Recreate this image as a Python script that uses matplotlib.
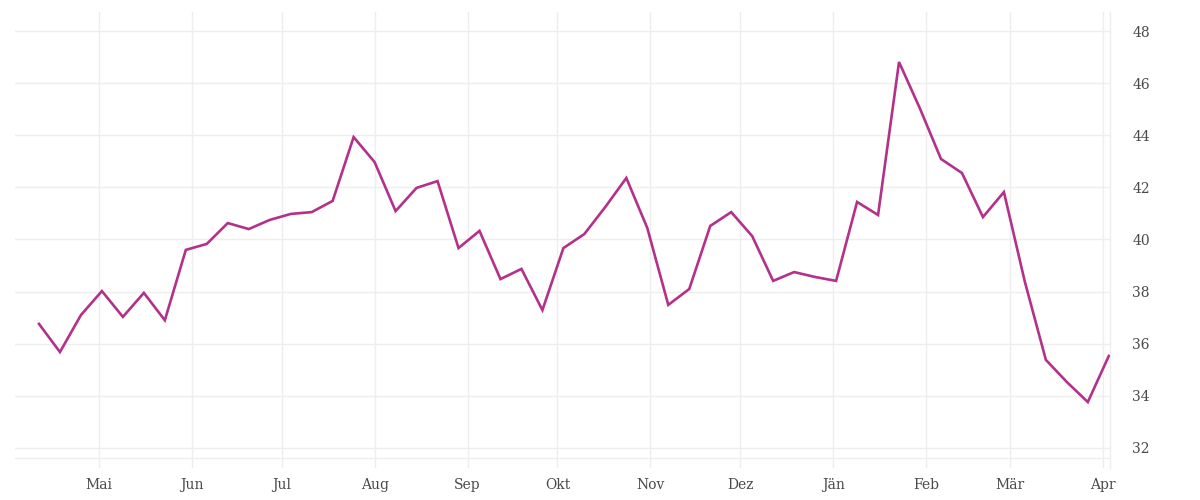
import matplotlib
matplotlib.use("Agg")
import matplotlib.pyplot as plt
import matplotlib.dates as mdates
import numpy as np
import pandas as pd

# weekly values
dates = pd.date_range("2021-04-11", "2022-04-03", freq="7D")
values = [36.76, 35.68, 37.10, 38.02, 37.03, 37.95, 36.90, 39.60, 39.83, 40.63,
          40.40, 40.75, 40.98, 41.05, 41.48, 43.93, 42.97, 41.09, 41.98, 42.24,
          39.67, 40.33, 38.48, 38.87, 37.29, 39.67, 40.21, 41.25, 42.36, 40.44,
          37.49, 38.10, 40.52, 41.05, 40.13, 38.41, 38.75, 38.56, 38.41, 41.44,
          40.94, 46.81, 45.02, 43.09, 42.55, 40.86, 41.82, 38.37, 35.38, 34.53,
          33.76, 35.53]
month_starts = pd.date_range("2021-05-01", "2022-04-01", freq="MS")
month_labels = ["Mai", "Jun", "Jul", "Aug", "Sep", "Okt", "Nov", "Dez",
                "Jän", "Feb", "Mär", "Apr"]
y_ticks = [32, 34, 36, 38, 40, 42, 44, 46, 48]

line_color = "#b3318b"
grid_color = "#eeeeee"
text_color = "#4a4a4a"

plt.rcParams["font.family"] = ["DejaVu Serif"]

fig = plt.figure(figsize=(12, 5), dpi=100)
ax = fig.add_axes([0.0125, 0.064, 0.9125, 0.912])

ax.plot(dates, values, color=line_color, lw=1.9, solid_joinstyle="miter", zorder=3)

ax.set_xlim(dates[0] - pd.Timedelta(days=8), dates[-1] + pd.Timedelta(days=0.4))
ax.set_ylim(31.23, 48.73)

ax.set_xticks(month_starts)
ax.set_xticklabels(month_labels)
ax.set_yticks(y_ticks)
ax.set_yticklabels([str(v) for v in y_ticks])
ax.yaxis.tick_right()

ax.grid(True, color=grid_color, lw=1)
ax.axhline(31.6, color=grid_color, lw=1, zorder=0)
ax.set_axisbelow(True)

for side in ["top", "left", "bottom"]:
    ax.spines[side].set_visible(False)
ax.spines["right"].set_color(grid_color)
ax.spines["right"].set_linewidth(1)

ax.tick_params(axis="both", length=0, labelsize=10, colors=text_color)
ax.tick_params(axis="x", pad=7.5)
ax.tick_params(axis="y", pad=16)

fig.savefig("out.png", dpi=100)
